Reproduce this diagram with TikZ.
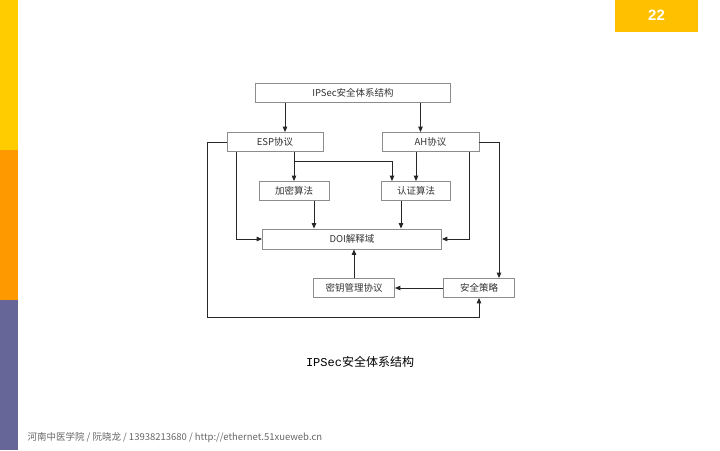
\documentclass[tikz,border=0pt]{standalone}
\usepackage{fontspec}
\setmainfont{Liberation Sans}
\newfontfamily\cjk{Noto Sans CJK SC}
\newfontfamily\capmono{Liberation Mono}
\usetikzlibrary{arrows.meta,positioning,calc}
\definecolor{BarYellow}{RGB}{255,204,0}
\definecolor{BarOrange}{RGB}{255,153,0}
\definecolor{BarPurple}{RGB}{102,102,153}
\definecolor{PageGold}{RGB}{255,192,0}
\definecolor{BoxGray}{RGB}{140,140,140}
\tikzset{
  sbox/.style={draw=BoxGray,fill=white,line width=0.8pt,
               minimum height=19pt,inner sep=0pt,
               font=\cjk\fontsize{9.5}{11}\selectfont,text=black!80},
  arr/.style={-{Triangle[length=5.5pt,width=4.5pt]},black!85,line width=0.9pt},
}

\begin{document}
\begin{tikzpicture}[x=1pt,y=-1pt]
  \useasboundingbox (0,0) rectangle (720,450);
  % side bar and page number
  \fill[BarYellow] (0,0) rectangle (18,150);
  \fill[BarOrange] (0,150) rectangle (18,300);
  \fill[BarPurple] (0,300) rectangle (18,450);
  \fill[PageGold] (615,0) rectangle (698,32);
  \node[text=white,font=\bfseries\fontsize{15}{17}\selectfont] (pnum) at (656.5,15) {22};

  % boxes
  \node[sbox,minimum width=195pt] (title) at (353,93) {IPSec安全体系结构};
  \node[sbox,minimum width=96pt] (esp) at (275,142) {ESP协议};
  \node[sbox,minimum width=97pt] (ah) at (430.5,142) {AH协议};
  \node[sbox,minimum width=70pt] (jiami) at (294,191) {加密算法};
  \node[sbox,minimum width=69pt] (renzheng) at (416,191) {认证算法};
  \node[sbox,minimum width=179pt,minimum height=20pt] (doi) at (352,239) {DOI解释域};
  \node[sbox,minimum width=81pt] (miyao) at (354,288) {密钥管理协议};
  \node[sbox,minimum width=71pt] (celue) at (479,288) {安全策略};
  \coordinate (br) at (294,161);
  \coordinate (lb) at (207,317);

  % connectors
  \draw[arr] ([xshift=10pt]esp.north |- title.south) -- ([xshift=10pt]esp.north);
  \draw[arr] ([xshift=-10pt]ah.north |- title.south) -- ([xshift=-10pt]ah.north);
  \draw[arr] (esp.south -| jiami.north) -- (jiami.north);
  \draw[arr] (br) -| ([xshift=-24pt]renzheng.north);
  \draw[arr] (ah.south -| renzheng.north) -- (renzheng.north);
  \draw[arr] ([xshift=-39pt]esp.south) |- (doi.west);
  \draw[arr] ([xshift=39pt]ah.south) |- (doi.east);
  \draw[arr] ([xshift=20pt]jiami.south) -- ([xshift=20pt]jiami.south |- doi.north);
  \draw[arr] ([xshift=-15pt]renzheng.south) -- ([xshift=-15pt]renzheng.south |- doi.north);
  \draw[arr] (miyao.north) -- (miyao.north |- doi.south);
  \draw[arr] (celue.west) -- (miyao.east);
  \draw[arr] (ah.east) -| ([xshift=20pt]celue.north);
  \draw[arr] (esp.west) -| (lb) -| (celue.south);

  % caption and footer
  \node[font=\fontsize{12}{14}\selectfont] (cap) at (360,362) {{\capmono IPSec}{\cjk 安全体系结构}};
  \node[anchor=west,text=black!60,font=\cjk\fontsize{9.5}{11}\selectfont] (foot) at (24,438)
    {河南中医学院 / 阮晓龙 / 13938213680 / http://ethernet.51xueweb.cn};
\end{tikzpicture}
\end{document}
